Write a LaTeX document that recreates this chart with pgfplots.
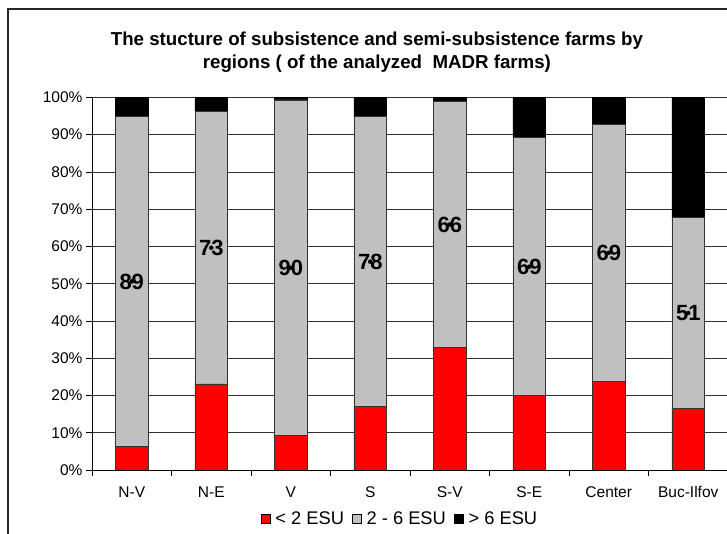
\documentclass[border=0pt]{standalone}
\usepackage{fontspec}
\setmainfont{Liberation Sans}
\usepackage{pgfplots}
\pgfplotsset{compat=1.18}

\definecolor{lowred}{RGB}{255,0,0}
\definecolor{midgray}{RGB}{192,192,192}

\pgfplotsset{
  common/.style={
    scale only axis,
    width=636pt, height=372.6pt,
    at={(92pt,64pt)}, anchor=south west,
    xmin=-0.5, xmax=7.5,
    ymin=0, ymax=100,
  },
}

\begin{document}
\begin{tikzpicture}
\path[use as bounding box] (0,0) rectangle (727pt,534pt);
\draw[black!85, line width=1.5pt] (8pt,-2pt) -- (8pt,525pt) -- (729pt,525pt);

\begin{axis}[
  common,
  ybar stacked,
  bar width=32.6pt,
  axis x line*=bottom,
  axis y line*=left,
  axis line style={black, line width=0.8pt},
  xtick={0,...,7},
  xticklabels={N-V,N-E,V,S,S-V,S-E,Center,Buc-Ilfov},
  major x tick style={draw=none},
  minor xtick={-0.5,0.5,...,7.5},
  minor x tick style={black, line width=0.8pt},
  minor tick length=6pt,
  xticklabel style={yshift=-7pt},
  ytick={0,10,...,100},
  yticklabels={0\%,10\%,20\%,30\%,40\%,50\%,60\%,70\%,80\%,90\%,100\%},
  tick align=outside,
  major tick length=6pt,
  y tick style={black, line width=0.8pt},
  ymajorgrids,
  major grid style={black!80, line width=0.8pt},
  tick label style={font=\fontsize{15.5}{15.5}\selectfont},
  title={The stucture of subsistence and semi-subsistence farms by\\regions ( of the analyzed\ \ MADR farms)},
  title style={at={(0.448,1.106)}, anchor=center, align=center,
    font=\bfseries\fontsize{18.7}{22.7}\selectfont},
  legend columns=3,
  legend style={draw=none, at={(0.485,-0.1315)}, anchor=center,
    font=\fontsize{18.3}{18.3}\selectfont,
    nodes={inner xsep=3pt},
    /tikz/every odd column/.append style={column sep=2pt},
    /tikz/every even column/.append style={column sep=5pt}},
  legend image code/.code={\draw[#1, draw=black, line width=0.6pt] (0pt,-4pt) rectangle (9pt,4.5pt);},
]
\addplot[fill=lowred, draw=black!80, line width=0.8pt] coordinates {
  (0,6.4) (1,23.1) (2,9.2) (3,17.0) (4,32.8) (5,19.9) (6,23.8) (7,16.6)};
\addplot[fill=midgray, draw=black!80, line width=0.8pt] coordinates {
  (0,88.4) (1,73.1) (2,90.1) (3,77.8) (4,66.2) (5,69.3) (6,69.0) (7,51.1)};
\addplot[fill=black, draw=black, line width=0.8pt] coordinates {
  (0,5.2) (1,3.8) (2,0.7) (3,5.2) (4,1.0) (5,10.8) (6,7.2) (7,32.3)};
\legend{< 2 ESU, 2 - 6 ESU, > 6 ESU}
\end{axis}

\begin{axis}[
  common,
  hide axis,
]
\addplot[only marks, mark=*, mark options={draw=none, fill=none},
  point meta=explicit symbolic,
  nodes near coords,
  every node near coord/.append style={anchor=center, inner sep=0pt,
    font=\bfseries\fontsize{22}{22}\selectfont},
] coordinates {
  (0,50.6) [89] (1,59.65) [73] (2,54.25) [90] (3,55.9) [78]
  (4,65.9) [66] (5,54.55) [69] (6,58.3) [69] (7,42.15) [51]};
\end{axis}
\end{tikzpicture}
\end{document}
